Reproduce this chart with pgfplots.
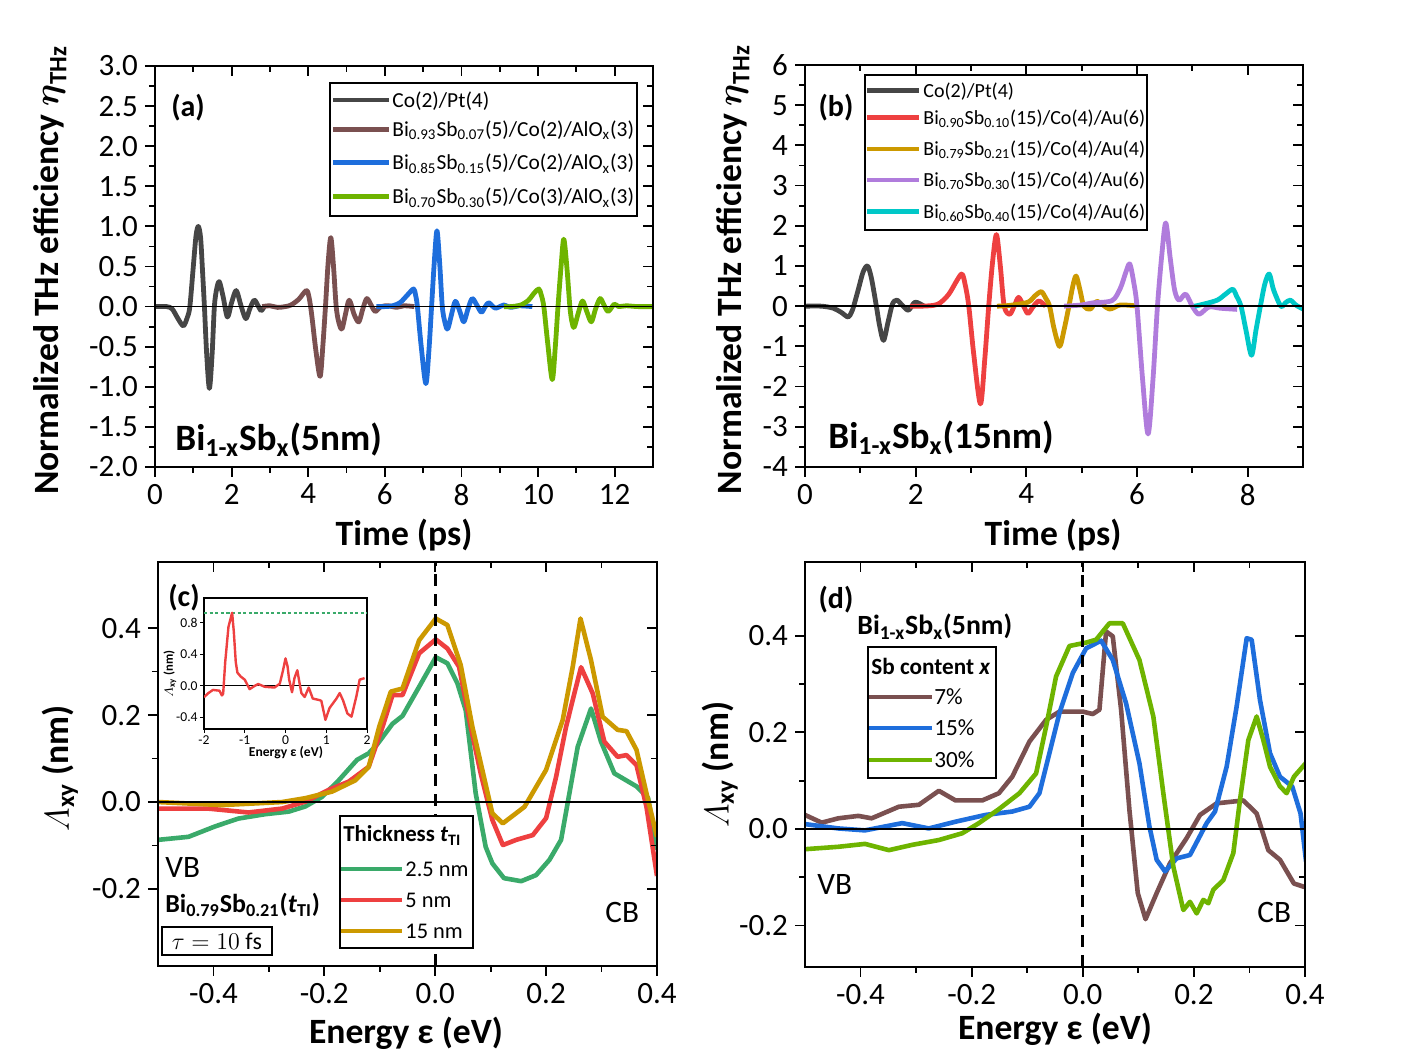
\documentclass[border=0pt]{standalone}
\usepackage{amsmath}
\usepackage{fontspec}
\setmainfont{Carlito}
\usepackage{pgfplots}
\pgfplotsset{compat=1.18}
\definecolor{cblack}{HTML}{464646}
\definecolor{cbrown}{HTML}{7A5050}
\definecolor{cblue}{HTML}{1E6EDC}
\definecolor{cgreen}{HTML}{6EB400}
\definecolor{cred}{HTML}{EE4040}
\definecolor{cgold}{HTML}{CC9900}
\definecolor{cpurple}{HTML}{B07CDC}
\definecolor{ccyan}{HTML}{00C8C8}
\definecolor{cteal}{HTML}{3AAA6A}
\newcommand\tickfont{\fontsize{15.5}{17}\selectfont}
\newcommand\labfont{\fontsize{17.8}{20}\selectfont\bfseries}
\newcommand\panfont{\fontsize{15}{17}\selectfont\bfseries}
\newcommand\etathz{$\boldsymbol{\eta}_{\mathbf{THz}}$}
\pgfplotsset{
  base/.style={scale only axis, anchor=south west,
    axis line style={line width=1.1pt},
    tick style={black, line width=0.9pt},
    major tick length=5pt, minor tick length=3pt,
    ticklabel style={font=\tickfont},
    /pgf/number format/assume math mode=true},
  outer/.style={base, tick align=outside, tick pos=left},
  inner/.style={base, tick align=inside, tick pos=right, xticklabels={}, yticklabels={}},
  curve/.style={line width=2.4pt, smooth, tension=0.5, line join=round},
  pcurve/.style={line width=2.3pt, line join=round},
  pa/.style={at={(77.5pt,296pt)}, width=249pt, height=200.5pt, xmin=0, xmax=13, ymin=-2, ymax=3,
    xtick={0,2,...,12}, ytick={-2,-1.5,...,3}, minor x tick num=1, minor y tick num=1},
  pb/.style={at={(402.5pt,296pt)}, width=249pt, height=201pt, xmin=0, xmax=9, ymin=-4, ymax=6,
    xtick={0,2,4,6,8}, ytick={-4,-3,...,6}, minor x tick num=1, minor y tick num=1},
  pc/.style={at={(79pt,46.5pt)}, width=249.5pt, height=202pt, xmin=-0.5, xmax=0.4, ymin=-0.377, ymax=0.552,
    xtick={-0.4,-0.2,0,0.2,0.4}, ytick={-0.2,0,0.2,0.4}, minor x tick num=1, minor y tick num=1},
  pd/.style={at={(402.5pt,46pt)}, width=250pt, height=202.5pt, xmin=-0.5, xmax=0.4, ymin=-0.286, ymax=0.553,
    xtick={-0.4,-0.2,0,0.2,0.4}, ytick={-0.2,0,0.2,0.4}, minor x tick num=1, minor y tick num=1},
  onedec/.style={/pgf/number format/.cd, fixed, fixed zerofill, precision=1},
}
\begin{document}
\begin{tikzpicture}
\path[use as bounding box] (0,0) rectangle (705pt,529.5pt);
% ---------------- (a)
\begin{axis}[outer, pa,
  xlabel={Time (ps)}, ylabel={Normalized THz efficiency \etathz},
  xlabel style={at={(axis description cs:0.5,-0.170)}, anchor=center, font=\labfont, inner sep=0pt},
  ylabel style={at={(axis description cs:-0.211,0.491)}, anchor=center, font=\labfont, inner sep=0pt},
  yticklabel style={onedec}]
\addplot[cblack, curve] coordinates {(0,0) (0.3,0) (0.45,-0.03) (0.6,-0.15) (0.74,-0.24) (0.84,-0.14) (0.91,0) (1.0,0.5) (1.07,0.88) (1.13,1.0) (1.19,0.86) (1.24,0.45) (1.29,0) (1.35,-0.6) (1.42,-1.02) (1.49,-0.6) (1.55,0) (1.61,0.22) (1.68,0.31) (1.78,0.12) (1.89,-0.13) (2.0,0.05) (2.12,0.2) (2.24,0.02) (2.37,-0.15) (2.48,-0.02) (2.59,0.08) (2.68,0.02) (2.77,-0.05) (2.85,0)};
\addplot[cbrown, curve] coordinates {(2.8,0) (3.0,0.01) (3.2,-0.01) (3.4,0) (3.55,0.02) (3.75,0.09) (3.95,0.2) (4.02,0.12) (4.09,-0.1) (4.2,-0.55) (4.31,-0.87) (4.38,-0.5) (4.45,0) (4.52,0.55) (4.59,0.86) (4.66,0.5) (4.73,0) (4.8,-0.2) (4.88,-0.28) (4.97,-0.1) (5.07,0.08) (5.2,-0.1) (5.32,-0.19) (5.43,-0.02) (5.53,0.1) (5.64,0.02) (5.75,-0.06) (5.9,0) (6.1,0.01) (6.3,-0.01) (6.5,0.01) (6.77,0)};
\addplot[cblue, curve] coordinates {(5.78,0) (6.0,0) (6.2,0.01) (6.4,0.05) (6.6,0.15) (6.75,0.22) (6.8,0.15) (6.85,0) (6.95,-0.5) (7.07,-0.96) (7.15,-0.55) (7.22,0) (7.29,0.55) (7.36,0.945) (7.43,0.55) (7.5,0) (7.57,-0.2) (7.64,-0.28) (7.74,-0.1) (7.84,0.066) (7.95,-0.05) (8.06,-0.19) (8.17,-0.03) (8.28,0.1) (8.4,0.02) (8.52,-0.07) (8.62,0) (8.71,0.05) (8.8,0.01) (8.89,-0.02) (9.0,0.0) (9.1,0.02) (9.3,-0.01) (9.5,0.01) (9.85,0)};
\addplot[cgreen, curve] coordinates {(9.11,0) (9.3,0) (9.55,0.02) (9.75,0.08) (9.9,0.17) (10.02,0.22) (10.08,0.15) (10.15,0) (10.25,-0.45) (10.37,-0.91) (10.45,-0.5) (10.52,0) (10.6,0.5) (10.67,0.84) (10.75,0.5) (10.83,0) (10.88,-0.18) (10.94,-0.26) (11.05,-0.08) (11.16,0.07) (11.27,-0.06) (11.39,-0.19) (11.5,-0.03) (11.62,0.1) (11.72,0.02) (11.83,-0.06) (11.99,0.03) (12.1,0.0) (12.3,0.01) (12.6,0) (13,0)};
\addplot[black, line width=0.9pt] coordinates {(0,0) (13,0)};
\end{axis}
\begin{axis}[inner, pa]\end{axis}
% ---------------- (b)
\begin{axis}[outer, pb,
  xlabel={Time (ps)}, ylabel={Normalized THz efficiency \etathz},
  xlabel style={at={(axis description cs:0.498,-0.170)}, anchor=center, font=\labfont, inner sep=0pt},
  ylabel style={at={(axis description cs:-0.145,0.491)}, anchor=center, font=\labfont, inner sep=0pt}]
\addplot[cblack, curve] coordinates {(0,0) (0.3,0) (0.51,-0.05) (0.65,-0.15) (0.78,-0.27) (0.84,-0.15) (0.88,0) (0.97,0.45) (1.05,0.85) (1.13,1.0) (1.2,0.7) (1.29,0) (1.35,-0.5) (1.42,-0.85) (1.5,-0.4) (1.58,0.05) (1.66,0.15) (1.76,0.02) (1.87,-0.1) (1.99,0.1) (2.15,0.0)};
\addplot[cred, curve] coordinates {(1.9,0) (2.1,0.0) (2.32,0.02) (2.44,0.08) (2.6,0.3) (2.75,0.65) (2.84,0.8) (2.9,0.5) (2.96,0) (3.05,-1.2) (3.17,-2.43) (3.25,-1.3) (3.32,0) (3.39,1.1) (3.46,1.78) (3.53,1.0) (3.6,0) (3.7,-0.2) (3.78,0) (3.86,0.22) (3.95,0.0) (4.03,-0.18) (4.13,0) (4.23,0.13) (4.35,0.0)};
\addplot[cgold, curve] coordinates {(3.47,0) (3.7,0.02) (4.03,0.1) (4.15,0.25) (4.27,0.36) (4.35,0.2) (4.42,0) (4.5,-0.55) (4.6,-1.0) (4.68,-0.6) (4.77,0) (4.84,0.5) (4.9,0.75) (4.97,0.4) (5.04,0) (5.16,-0.07) (5.28,0.12) (5.5,-0.07) (5.7,0.03) (6.03,0)};
\addplot[cpurple, curve] coordinates {(4.68,0) (5.0,0.03) (5.19,0.08) (5.55,0.14) (5.7,0.45) (5.8,0.85) (5.87,1.05) (5.94,0.6) (6.0,0) (6.1,-1.8) (6.2,-3.18) (6.29,-1.8) (6.37,0) (6.45,1.3) (6.52,2.07) (6.6,1.2) (6.68,0.4) (6.76,0.15) (6.88,0.3) (7.0,0.0) (7.12,-0.2) (7.3,-0.02) (7.5,-0.05) (7.81,-0.08)};
\addplot[ccyan, curve] coordinates {(7.04,0) (7.2,0.05) (7.45,0.15) (7.6,0.3) (7.73,0.42) (7.8,0.25) (7.88,0) (7.97,-0.6) (8.07,-1.22) (8.15,-0.6) (8.23,0) (8.31,0.55) (8.39,0.8) (8.47,0.4) (8.6,0.0) (8.68,0.08) (8.77,0.15) (8.88,0.02) (9,-0.07)};
\addplot[black, line width=0.9pt] coordinates {(0,0) (9,0)};
\end{axis}
\begin{axis}[inner, pb]\end{axis}
% ---------------- (c)
\begin{axis}[outer, pc,
  xlabel={Energy ε (eV)}, ylabel={$\varLambda$\textsubscript{xy} (nm)},
  xlabel style={at={(axis description cs:0.497,-0.166)}, anchor=center, font=\labfont, inner sep=0pt},
  ylabel style={at={(axis description cs:-0.196,0.49)}, anchor=center, font=\labfont, inner sep=0pt},
  xticklabel style={onedec}, yticklabel style={onedec}]
\addplot[cteal, pcurve] coordinates {(-0.5,-0.087) (-0.445,-0.08) (-0.397,-0.056) (-0.355,-0.038) (-0.307,-0.028) (-0.264,-0.022) (-0.234,-0.01) (-0.204,0.012) (-0.174,0.05) (-0.141,0.097) (-0.12,0.112) (-0.105,0.132) (-0.077,0.18) (-0.059,0.198) (-0.029,0.265) (0.001,0.333) (0.022,0.319) (0.040,0.273) (0.055,0.211) (0.073,0.02) (0.091,-0.103) (0.103,-0.141) (0.124,-0.175) (0.155,-0.182) (0.182,-0.168) (0.206,-0.133) (0.227,-0.087) (0.242,0.02) (0.257,0.127) (0.281,0.215) (0.299,0.139) (0.323,0.066) (0.363,0.036) (0.384,0.009) (0.4,-0.11)};
\addplot[cred, pcurve] coordinates {(-0.5,-0.015) (-0.41,-0.015) (-0.337,-0.024) (-0.276,-0.015) (-0.234,0.001) (-0.192,0.028) (-0.156,0.047) (-0.12,0.081) (-0.095,0.173) (-0.077,0.246) (-0.059,0.246) (-0.029,0.342) (0.001,0.374) (0.022,0.353) (0.043,0.311) (0.064,0.173) (0.082,0.066) (0.103,-0.041) (0.122,-0.099) (0.146,-0.087) (0.176,-0.076) (0.2,-0.037) (0.218,0.058) (0.236,0.173) (0.251,0.25) (0.263,0.31) (0.284,0.25) (0.305,0.139) (0.329,0.104) (0.345,0.108) (0.363,0.085) (0.381,-0.011) (0.4,-0.17)};
\addplot[cgold, pcurve] coordinates {(-0.5,0) (-0.385,-0.007) (-0.276,0) (-0.234,0.009) (-0.186,0.024) (-0.144,0.05) (-0.12,0.081) (-0.101,0.173) (-0.08,0.254) (-0.059,0.261) (-0.029,0.372) (0.001,0.422) (0.022,0.407) (0.046,0.315) (0.067,0.173) (0.103,-0.026) (0.122,-0.049) (0.161,-0.011) (0.2,0.074) (0.23,0.189) (0.248,0.311) (0.262,0.422) (0.281,0.326) (0.302,0.196) (0.329,0.166) (0.345,0.163) (0.363,0.12) (0.381,0.02) (0.4,-0.08)};
\addplot[black, line width=0.9pt] coordinates {(-0.5,0) (0.4,0)};
\addplot[black, line width=1.5pt, dash pattern=on 6pt off 4pt] coordinates {(0,-0.377) (0,0.552)};
\end{axis}
\begin{axis}[inner, pc]\end{axis}
% inset
\begin{axis}[scale only axis, anchor=south west, at={(102pt,165pt)}, width=81.5pt, height=65.5pt,
  xmin=-2, xmax=2, ymin=-0.546, ymax=1.117, xtick={-2,-1,0,1,2}, ytick={-0.4,0,0.4,0.8},
  axis background/.style={fill=white}, axis line style={line width=0.6pt},
  tick style={black, line width=0.5pt}, major tick length=2pt, tick align=outside, tick pos=left,
  ticklabel style={font=\fontsize{6.8}{8}\selectfont, inner sep=1pt}, /pgf/number format/assume math mode=true,
  yticklabel style={onedec},
  xlabel={Energy ε (eV)}, ylabel={$\varLambda$\textsubscript{xy} (nm)},
  xlabel style={at={(axis description cs:0.503,-0.183)}, anchor=center, font=\fontsize{6.8}{8}\selectfont\bfseries, inner sep=0pt},
  ylabel style={at={(axis description cs:-0.209,0.42)}, anchor=center, font=\fontsize{6.3}{7.5}\selectfont\bfseries, inner sep=0pt}]
\addplot[black, line width=0.5pt] coordinates {(-2,0) (2,0)};
\addplot[cteal, line width=1.3pt, dash pattern=on 1.6pt off 1.2pt] coordinates {(-2,0.925) (2,0.925)};
\addplot[cred, line width=1.2pt, line join=round] coordinates {(-2,-0.143) (-1.90,-0.093) (-1.78,-0.05) (-1.62,-0.06) (-1.56,-0.12) (-1.53,-0.1) (-1.48,0.3) (-1.40,0.75) (-1.31,0.93) (-1.27,0.7) (-1.22,0.3) (-1.18,0.17) (-1.10,0.12) (-1.0,0.08) (-0.88,-0.04) (-0.76,0) (-0.67,0.025) (-0.51,-0.01) (-0.27,-0.02) (-0.14,0.03) (-0.06,0.2) (0.0,0.35) (0.05,0.25) (0.09,0.08) (0.16,-0.08) (0.22,0.1) (0.29,0.2) (0.34,0.05) (0.39,-0.09) (0.47,-0.14) (0.57,-0.02) (0.67,-0.16) (0.84,-0.18) (0.88,-0.19) (0.98,-0.43) (1.08,-0.28) (1.25,-0.16) (1.33,-0.09) (1.41,-0.18) (1.52,-0.35) (1.62,-0.39) (1.74,-0.13) (1.82,0.08) (1.94,0.1)};
\end{axis}
% ---------------- (d)
\begin{axis}[outer, pd,
  xlabel={Energy ε (eV)}, ylabel={$\varLambda$\textsubscript{xy} (nm)},
  xlabel style={at={(axis description cs:0.5,-0.153)}, anchor=center, font=\labfont, inner sep=0pt},
  ylabel style={at={(axis description cs:-0.17,0.499)}, anchor=center, font=\labfont, inner sep=0pt},
  xticklabel style={onedec}, yticklabel style={onedec}]
\addplot[cbrown, pcurve] coordinates {(-0.5,0.029) (-0.470,0.013) (-0.440,0.022) (-0.404,0.027) (-0.380,0.022) (-0.331,0.046) (-0.295,0.050) (-0.259,0.079) (-0.229,0.059) (-0.181,0.059) (-0.151,0.074) (-0.127,0.108) (-0.096,0.181) (-0.066,0.226) (-0.042,0.243) (0.000,0.243) (0.018,0.238) (0.030,0.247) (0.042,0.409) (0.054,0.399) (0.069,0.247) (0.084,0.039) (0.099,-0.133) (0.113,-0.187) (0.133,-0.133) (0.157,-0.071) (0.187,-0.019) (0.211,0.029) (0.241,0.053) (0.289,0.059) (0.313,0.032) (0.334,-0.044) (0.355,-0.064) (0.380,-0.113) (0.401,-0.121)};
\addplot[cblue, pcurve] coordinates {(-0.5,0.010) (-0.440,0.001) (-0.392,-0.003) (-0.325,0.012) (-0.277,0.001) (-0.229,0.015) (-0.175,0.029) (-0.127,0.036) (-0.096,0.046) (-0.078,0.074) (-0.060,0.157) (-0.042,0.240) (-0.018,0.323) (0.006,0.374) (0.033,0.390) (0.054,0.350) (0.078,0.260) (0.102,0.136) (0.120,0.005) (0.133,-0.064) (0.148,-0.088) (0.169,-0.061) (0.193,-0.054) (0.223,0.012) (0.238,0.036) (0.259,0.129) (0.277,0.254) (0.295,0.395) (0.304,0.392) (0.319,0.267) (0.337,0.157) (0.355,0.108) (0.377,0.088) (0.392,0.032) (0.402,-0.068)};
\addplot[cgreen, pcurve] coordinates {(-0.5,-0.042) (-0.440,-0.037) (-0.392,-0.031) (-0.349,-0.044) (-0.307,-0.033) (-0.259,-0.023) (-0.217,-0.009) (-0.187,0.012) (-0.151,0.041) (-0.114,0.074) (-0.084,0.115) (-0.066,0.212) (-0.048,0.316) (-0.024,0.379) (0.006,0.386) (0.024,0.392) (0.048,0.426) (0.072,0.426) (0.102,0.350) (0.127,0.233) (0.145,0.074) (0.163,-0.078) (0.181,-0.168) (0.193,-0.151) (0.205,-0.175) (0.217,-0.147) (0.226,-0.154) (0.235,-0.126) (0.253,-0.106) (0.271,-0.050) (0.283,0.060) (0.298,0.184) (0.313,0.233) (0.325,0.184) (0.337,0.129) (0.355,0.088) (0.367,0.074) (0.380,0.108) (0.402,0.137)};
\addplot[black, line width=0.9pt] coordinates {(-0.5,0) (0.4,0)};
\addplot[black, line width=1.5pt, dash pattern=on 6pt off 4pt] coordinates {(0,-0.286) (0,0.553)};
\end{axis}
\begin{axis}[inner, pd]\end{axis}
% ---------------- annotations and legends
\begin{scope}[x=0.5pt,y=0.5pt]
\node[font=\panfont] at (188,951) {(a)};
\node[font=\panfont] at (836,951) {(b)};
\node[font=\panfont] at (184,461) {(c)};
\node[font=\panfont] at (836,459) {(d)};
\node[anchor=base west, inner sep=0, font=\fontsize{18.6}{20}\selectfont\bfseries] at (175,608) {Bi\textsubscript{1-x}Sb\textsubscript{x}(5nm)};
\node[anchor=base west, inner sep=0, font=\fontsize{18.6}{20}\selectfont\bfseries] at (828,610) {Bi\textsubscript{1-x}Sb\textsubscript{x}(15nm)};
\node[anchor=base west, inner sep=0, font=\fontsize{13.9}{16}\selectfont\bfseries] at (857,424) {Bi\textsubscript{1-x}Sb\textsubscript{x}(5nm)};
\node[anchor=base west, inner sep=0, font=\fontsize{13}{15}\selectfont\bfseries] at (165,146) {Bi\textsubscript{0.79}Sb\textsubscript{0.21}(\textit{t}\textsubscript{TI})};
\node[draw, line width=1pt, minimum width=55pt, minimum height=14pt, inner sep=1pt, font=\fontsize{12}{14}\selectfont] at (217,118) {$\tau = 10\ \mathrm{fs}$};
\node[anchor=base west, inner sep=0, font=\fontsize{15.6}{17}\selectfont] at (165,181) {VB};
\node[anchor=base west, inner sep=0, font=\fontsize{15.6}{17}\selectfont] at (605,136) {CB};
\node[anchor=base west, inner sep=0, font=\fontsize{15.6}{17}\selectfont] at (817,164) {VB};
\node[anchor=base west, inner sep=0, font=\fontsize{15.6}{17}\selectfont] at (1257,136) {CB};
% legend a
\draw[line width=0.6pt, fill=white] (330,976) rectangle (637,843);
\begin{scope}[every node/.style={anchor=base west, inner sep=0, font=\fontsize{10.7}{12}\selectfont}]
\draw[cblack, line width=2.3pt] (333,959) -- (389,959); \node at (392,951.5) {Co(2)/Pt(4)};
\draw[cbrown, line width=2.3pt] (333,929.7) -- (389,929.7); \node at (392,922.5) {Bi\textsubscript{0.93}Sb\textsubscript{0.07}(5)/Co(2)/AlO\textsubscript{x}(3)};
\draw[cblue, line width=2.3pt] (333,896.3) -- (389,896.3); \node at (392,889) {Bi\textsubscript{0.85}Sb\textsubscript{0.15}(5)/Co(2)/AlO\textsubscript{x}(3)};
\draw[cgreen, line width=2.3pt] (333,862.3) -- (389,862.3); \node at (392,855) {Bi\textsubscript{0.70}Sb\textsubscript{0.30}(5)/Co(3)/AlO\textsubscript{x}(3)};
\end{scope}
% legend b
\draw[line width=0.6pt, fill=white] (865,984) rectangle (1147,829);
\begin{scope}[every node/.style={anchor=base west, inner sep=0, font=\fontsize{10}{12}\selectfont}]
\draw[cblack, line width=2.3pt] (867,968.3) -- (919,968.3); \node at (923,961.3) {Co(2)/Pt(4)};
\draw[cred, line width=2.3pt] (867,941.3) -- (919,941.3); \node at (923,934.3) {Bi\textsubscript{0.90}Sb\textsubscript{0.10}(15)/Co(4)/Au(6)};
\draw[cgold, line width=2.3pt] (867,910) -- (919,910); \node at (923,903) {Bi\textsubscript{0.79}Sb\textsubscript{0.21}(15)/Co(4)/Au(4)};
\draw[cpurple, line width=2.3pt] (867,879) -- (919,879); \node at (923,872) {Bi\textsubscript{0.70}Sb\textsubscript{0.30}(15)/Co(4)/Au(6)};
\draw[ccyan, line width=2.3pt] (867,847.3) -- (919,847.3); \node at (923,840.3) {Bi\textsubscript{0.60}Sb\textsubscript{0.40}(15)/Co(4)/Au(6)};
\end{scope}
% legend c
\draw[line width=0.6pt, fill=white] (340,243) rectangle (473,111);
\begin{scope}[every node/.style={anchor=base west, inner sep=0, font=\fontsize{11.2}{13}\selectfont}]
\node[font=\fontsize{11.4}{13}\selectfont\bfseries] at (343,217) {Thickness \textit{t}\textsubscript{TI}};
\draw[cteal, line width=2.3pt] (341,190) -- (402,190); \node at (405,182.5) {2.5 nm};
\draw[cred, line width=2.3pt] (341,159) -- (402,159); \node at (405,151.5) {5 nm};
\draw[cgold, line width=2.3pt] (341,128) -- (402,128); \node at (405,120.5) {15 nm};
\end{scope}
% legend d
\draw[line width=0.6pt, fill=white] (868,412) rectangle (996,281);
\begin{scope}[every node/.style={anchor=base west, inner sep=0, font=\fontsize{11.6}{13}\selectfont}]
\node[font=\fontsize{11.6}{13}\selectfont\bfseries] at (871,384) {Sb content \textit{x}};
\draw[cbrown, line width=2.3pt] (869,362) -- (932,362); \node at (934,354.5) {7\%};
\draw[cblue, line width=2.3pt] (869,331) -- (932,331); \node at (934,323.5) {15\%};
\draw[cgreen, line width=2.3pt] (869,299) -- (932,299); \node at (934,291.5) {30\%};
\end{scope}
\end{scope}
\end{tikzpicture}
\end{document}
